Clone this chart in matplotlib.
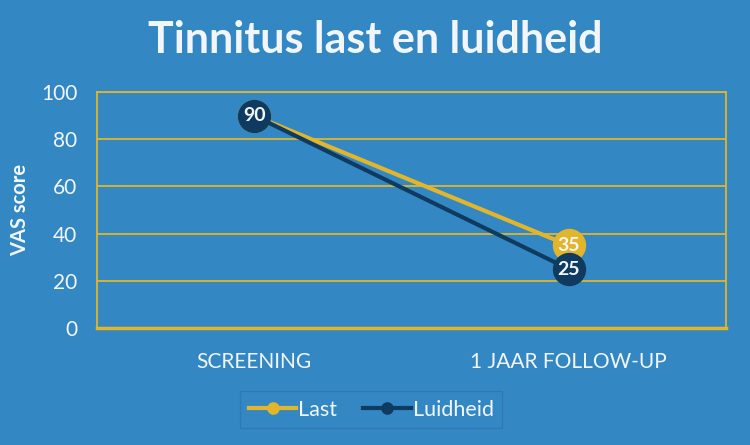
import matplotlib.pyplot as plt

# gegevens
categorieen = ["SCREENING", "1 JAAR FOLLOW-UP"]
last = [90, 35]
luidheid = [90, 25]
yticks = [0, 20, 40, 60, 80, 100]

bg = "#3388C4"
goud = "#E2B52B"
navy = "#0E3B5F"
wit = "#F2F6FA"

plt.rcParams["font.family"] = ["Lato", "DejaVu Sans"]

fig = plt.figure(figsize=(7.5, 4.45), dpi=100, facecolor=bg)
ax = fig.add_axes([0.1293, 0.263, 0.8387, 0.530])
ax.set_facecolor(bg)

x = list(range(len(categorieen)))
ax.plot(x, last, color=goud, lw=3, marker="o", ms=23, label="Last", zorder=3)
ax.plot(x, luidheid, color=navy, lw=3, marker="o", ms=23, label="Luidheid", zorder=4)

# waarden in de markers
for xi, v in zip(x, last):
    if v not in luidheid:
        ax.text(xi, v, str(v), color=wit, fontsize=14, fontweight="bold",
                ha="center", va="center", zorder=5)
for xi, v in zip(x, luidheid):
    ax.text(xi, v, str(v), color=wit, fontsize=14, fontweight="bold",
            ha="center", va="center", zorder=6)

ax.set_xlim(-0.5, 1.5)
ax.set_ylim(0, 100)
ax.set_yticks(yticks)
ax.set_xticks(x)
ax.set_xticklabels(categorieen)
ax.tick_params(axis="both", length=0, colors=wit, labelsize=15)
ax.tick_params(axis="x", pad=17)
ax.tick_params(axis="y", pad=14)
ax.yaxis.grid(True, color=goud, lw=1.3)
ax.set_axisbelow(True)
for kant, s in ax.spines.items():
    s.set_color(goud)
    s.set_linewidth(1.3)
ax.spines["bottom"].set_linewidth(2.5)

ax.set_ylabel("VAS score", color=wit, fontsize=14.5, fontweight="bold", labelpad=8)

fig.suptitle("Tinnitus last en luidheid", color=wit, fontsize=31,
             fontweight="bold", y=0.955)

handles, labels = ax.get_legend_handles_labels()
leg = fig.legend(handles, labels, loc="upper center", bbox_to_anchor=(0.495, 0.145),
                 ncol=2, fontsize=15.5, frameon=True, fancybox=False, markerscale=0.35,
                 handlelength=2.2, handletextpad=0.1, columnspacing=1.2,
                 borderpad=0.4)
leg.get_frame().set_facecolor(bg)
leg.get_frame().set_edgecolor("#2B77AE")
for t in leg.get_texts():
    t.set_color(wit)

fig.savefig("out.png", dpi=100, facecolor=bg)
